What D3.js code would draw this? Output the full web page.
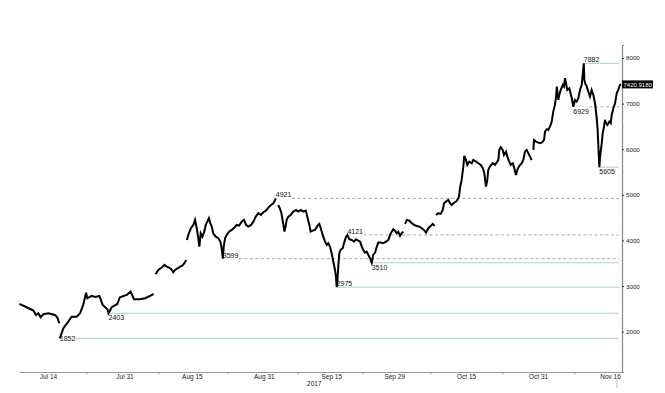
<!DOCTYPE html>
<meta charset="utf-8">
<script src="https://d3js.org/d3.v7.min.js"></script>
<style>
  body { margin: 0; background: #fff; }
  text { font-family: "Liberation Sans", Arial, sans-serif; }
</style>
<div id="chart"></div>
<script>
// price series (null = break in the line)
var dates = [
  "2017-07-07 15","2017-07-09 06","2017-07-10 18","2017-07-11 08","2017-07-11 20","2017-07-12 09","2017-07-12 23",
  "2017-07-14 02","2017-07-15 13","2017-07-16 02","2017-07-16 12","2017-07-16 13",
  "2017-07-16 15","2017-07-17 10","2017-07-18 12","2017-07-19 06","2017-07-20 09","2017-07-21 03","2017-07-21 20",
  "2017-07-22 11","2017-07-22 18","2017-07-23 17","2017-07-24 13","2017-07-25 10","2017-07-26 04","2017-07-27 05",
  "2017-07-27 11","2017-07-28 04","2017-07-29 10","2017-07-30 00","2017-07-31 12","2017-08-01 09","2017-08-02 03",
  "2017-08-03 11","2017-08-04 14","2017-08-05 20","2017-08-06 12","2017-08-06 17",
  "2017-08-06 22","2017-08-07 13","2017-08-08 07","2017-08-08 21","2017-08-09 10","2017-08-09 22","2017-08-10 09",
  "2017-08-10 21","2017-08-11 06","2017-08-11 20","2017-08-12 09","2017-08-12 21","2017-08-13 08","2017-08-13 18","2017-08-13 19",
  "2017-08-13 21","2017-08-14 05","2017-08-14 19","2017-08-15 08","2017-08-15 17","2017-08-16 02","2017-08-16 10",
  "2017-08-16 16","2017-08-16 23","2017-08-17 08","2017-08-17 18","2017-08-18 02","2017-08-18 12","2017-08-18 19",
  "2017-08-19 02","2017-08-19 10","2017-08-19 18","2017-08-20 07","2017-08-20 21","2017-08-21 08","2017-08-21 15",
  "2017-08-21 21","2017-08-22 02","2017-08-22 09","2017-08-22 18","2017-08-23 06","2017-08-23 21","2017-08-24 11",
  "2017-08-24 23","2017-08-25 12","2017-08-26 02","2017-08-26 14","2017-08-27 01","2017-08-27 13","2017-08-28 04",
  "2017-08-28 16","2017-08-29 05","2017-08-29 19","2017-08-30 09","2017-08-30 21","2017-08-31 10","2017-09-01 00",
  "2017-09-01 14","2017-09-02 03","2017-09-02 12","2017-09-02 16","2017-09-02 20",
  "2017-09-03 04","2017-09-03 13","2017-09-03 22","2017-09-04 07","2017-09-04 14","2017-09-04 20","2017-09-05 02",
  "2017-09-05 11","2017-09-05 23","2017-09-06 13","2017-09-07 04","2017-09-07 16","2017-09-08 05","2017-09-08 19",
  "2017-09-09 08","2017-09-09 16","2017-09-10 03","2017-09-10 10","2017-09-10 21","2017-09-11 09","2017-09-11 22",
  "2017-09-12 08","2017-09-12 16","2017-09-13 02","2017-09-13 15","2017-09-14 00","2017-09-14 08","2017-09-14 17",
  "2017-09-15 02","2017-09-15 11","2017-09-15 20","2017-09-16 01","2017-09-16 05","2017-09-16 08","2017-09-16 14",
  "2017-09-16 19","2017-09-17 02","2017-09-17 13","2017-09-17 20","2017-09-18 07","2017-09-18 14","2017-09-19 00",
  "2017-09-19 13","2017-09-20 01","2017-09-20 12","2017-09-21 00","2017-09-21 10","2017-09-21 19","2017-09-22 03",
  "2017-09-22 12","2017-09-22 21","2017-09-23 06","2017-09-23 15","2017-09-24 00","2017-09-24 08","2017-09-24 18",
  "2017-09-25 03","2017-09-25 11","2017-09-26 00","2017-09-26 14","2017-09-27 04","2017-09-27 17","2017-09-28 02",
  "2017-09-28 11","2017-09-28 19","2017-09-29 04","2017-09-29 13","2017-09-29 22","2017-09-30 07","2017-09-30 16",
  "2017-10-01 01","2017-10-01 05",
  "2017-10-01 10","2017-10-01 19","2017-10-02 09","2017-10-02 22","2017-10-03 10","2017-10-04 00","2017-10-04 14",
  "2017-10-05 03","2017-10-05 15","2017-10-06 02","2017-10-06 14","2017-10-07 03","2017-10-07 14","2017-10-08 00","2017-10-08 03",
  "2017-10-08 07","2017-10-08 19","2017-10-09 08","2017-10-09 19","2017-10-10 02","2017-10-10 12","2017-10-11 01",
  "2017-10-11 10","2017-10-11 19","2017-10-12 04","2017-10-12 18","2017-10-13 01","2017-10-13 10","2017-10-13 15",
  "2017-10-14 00","2017-10-14 09","2017-10-14 14","2017-10-14 23","2017-10-15 06","2017-10-15 17","2017-10-16 06",
  "2017-10-16 14","2017-10-17 05","2017-10-17 17","2017-10-18 06","2017-10-18 17","2017-10-19 01","2017-10-19 10",
  "2017-10-19 17","2017-10-19 22","2017-10-20 07","2017-10-20 22","2017-10-21 10","2017-10-21 22","2017-10-22 04",
  "2017-10-22 09","2017-10-22 17","2017-10-23 03","2017-10-23 10","2017-10-23 21","2017-10-24 04","2017-10-24 14",
  "2017-10-24 22","2017-10-25 09","2017-10-25 17","2017-10-26 02","2017-10-26 09","2017-10-26 20","2017-10-27 09",
  "2017-10-27 17","2017-10-28 02","2017-10-28 11","2017-10-28 20","2017-10-29 05","2017-10-29 14","2017-10-29 18",
  "2017-10-29 23","2017-10-30 02","2017-10-30 13","2017-10-31 01","2017-10-31 14","2017-11-01 01","2017-11-01 08",
  "2017-11-01 13","2017-11-01 22","2017-11-02 07","2017-11-02 19","2017-11-03 01","2017-11-03 09","2017-11-03 18",
  "2017-11-04 00","2017-11-04 04","2017-11-04 12","2017-11-04 17","2017-11-05 01","2017-11-05 12","2017-11-05 18",
  "2017-11-06 00","2017-11-06 05","2017-11-06 12","2017-11-06 23","2017-11-07 12","2017-11-07 20","2017-11-08 05",
  "2017-11-08 14","2017-11-08 23","2017-11-09 08","2017-11-09 17","2017-11-10 04","2017-11-10 07","2017-11-10 11",
  "2017-11-10 20","2017-11-11 04","2017-11-11 13","2017-11-11 22","2017-11-12 07","2017-11-12 16","2017-11-13 01",
  "2017-11-13 06","2017-11-13 10","2017-11-13 15","2017-11-13 19","2017-11-14 04","2017-11-14 09","2017-11-14 16",
  "2017-11-14 21","2017-11-15 03","2017-11-15 10","2017-11-15 20","2017-11-16 04","2017-11-16 09","2017-11-16 18",
  "2017-11-17 03","2017-11-17 12","2017-11-17 20","2017-11-18 05","2017-11-18 11"
];
var prices = [
  2607,2535,2461,2366,2403,2316,2382,
  2403,2366,2307,2184,null,
  1852,2075,2219,2329,2329,2403,2586,
  2855,2732,2783,2761,2783,2586,2491,
  2403,2535,2607,2754,2805,2877,2711,
  2711,2733,2790,2827,null,
  3259,3353,3404,3463,3425,3404,3375,
  3303,3353,3390,3425,3447,3500,3572,null,
  4011,4121,4268,4340,4450,4268,4048,
  3864,4158,4083,4193,4340,4428,4487,
  4377,4303,4158,4083,4048,3974,3829,
  3599,3864,4048,4121,4193,4230,4281,
  4340,4325,4412,4450,4340,4303,4340,
  4412,4522,4597,4559,4618,4647,4719,
  4778,4816,4888,4921,null,
  4778,4706,4597,4377,4193,4303,4450,
  4522,4559,4632,4669,4632,4669,4632,
  4654,4522,4340,4193,4215,4230,4318,
  4362,4268,4121,3974,3901,3939,3864,
  3719,3535,3353,3206,2975,3061,3463,
  3719,3792,3829,3939,4083,4121,4026,
  4011,3974,4026,3996,3974,3864,3792,
  3732,3754,3682,3610,3510,3682,3732,
  3864,3952,3952,3939,3974,4011,4121,
  4193,4246,4215,4158,4193,4099,4158,
  4193,null,
  4362,4450,4434,4377,4340,4318,4303,
  4268,4230,4171,4268,4318,4362,4318,null,
  4559,4597,4581,4669,4816,4851,4888,
  4816,4778,4816,4851,4888,4961,5145,
  5327,5618,5853,5765,5656,5728,5693,
  5765,5728,5693,5656,5583,5474,5180,
  5327,5546,5618,5693,5656,5728,5765,
  5985,6044,5985,5875,5947,5838,5728,
  5656,5693,5583,5436,5546,5634,5693,
  5765,5947,5985,5912,5838,5765,null,
  5985,6204,6167,6145,6132,6167,6204,
  6386,6439,6423,6533,6605,6825,6972,
  7154,7373,7081,7191,7300,7410,7373,
  7557,7447,7300,7338,7118,6929,7081,
  7044,7118,7300,7410,7882,7520,7447,
  7373,7263,7154,7300,7191,7009,6680,
  6423,6057,5605,5838,6132,6351,6496,
  6643,6570,6533,6605,6570,6752,6899,
  7009,7228,7300,7410,7420.918
];

// axis labels
var xLabels = ["Jul 14", "Jul 31", "Aug 15", "Aug 31", "Sep 15", "Sep 29", "Oct 15", "Oct 31", "Nov 16"];
var xLabelDates = ["2017-07-14 00", "2017-07-31 00", "2017-08-15 00", "2017-08-31 00", "2017-09-15 00",
                   "2017-09-29 00", "2017-10-15 00", "2017-10-31 00", "2017-11-16 00"];
var yearLabel = "2017";
var yTicks = [2000, 3000, 4000, 5000, 6000, 7000, 8000];
var yMinorTicks = [1500, 2500, 3500, 4500, 5500, 6500, 7500];

// marked highs / lows
var levelValues = [1852, 2403, 2975, 3510, 3599, 4121, 4921, 5605, 6929, 7882];
var levelDates = ["2017-07-16 15", "2017-07-27 11", "2017-09-16 05", "2017-09-24 00", "2017-08-21 21",
                  "2017-09-18 14", "2017-09-02 16", "2017-11-13 15", "2017-11-07 20", "2017-11-10 04"];
var levelPos = ["inline", "below", "above", "below", "above", "above", "above", "below", "below", "above"];
var levelDashed = [false, false, false, false, true, true, true, false, true, false];

var lastPrice = 7420.9180;

var parse = d3.timeParse("%Y-%m-%d %H");
var data = dates.map(function (d, i) { return {date: parse(d), v: prices[i]}; });

var width = 665, height = 393;
var svg = d3.select("#chart").append("svg")
    .attr("width", width)
    .attr("height", height);

var x = d3.scaleTime()
    .domain([parse("2017-07-07 12"), parse("2017-11-18 16")])
    .range([18.8, 622]);

var y = d3.scaleLinear()
    .domain([1115, 8285])
    .range([372, 45]);

// level lines
var levels = svg.append("g");
levelValues.forEach(function (v, i) {
  var lx = x(parse(levelDates[i]));
  var ly = y(v);
  var pos = levelPos[i];
  var t = levels.append("text")
      .attr("x", lx)
      .attr("y", pos === "below" ? ly + 7 : pos === "above" ? ly - 1 : ly + 2.5)
      .attr("font-size", 7)
      .attr("fill", "#111")
      .text(v);
  var w = t.node().getComputedTextLength();
  var x0 = (levelDashed[i] || pos === "inline") ? lx + w + 0.5 : lx;
  levels.insert("line", "text")
      .attr("x1", x0).attr("x2", 619)
      .attr("y1", ly).attr("y2", ly)
      .attr("stroke", levelDashed[i] ? "#a8a8a8" : "#a9d2cd")
      .attr("stroke-width", 1)
      .attr("stroke-dasharray", levelDashed[i] ? "3,2.5" : null);
});

// price line
var line = d3.line()
    .defined(function (d) { return d.v != null; })
    .x(function (d) { return x(d.date); })
    .y(function (d) { return y(d.v); });

svg.append("path")
    .datum(data)
    .attr("fill", "none")
    .attr("stroke", "#000")
    .attr("stroke-width", 2)
    .attr("stroke-linejoin", "miter")
    .attr("d", line);

// x axis
var labelDates = xLabelDates.map(parse);
var xAxis = svg.append("g")
    .attr("transform", "translate(0,372)")
    .call(d3.axisBottom(x)
      .tickValues(labelDates)
      .tickSize(0)
      .tickPadding(2.5)
      .tickFormat(function (d, i) { return xLabels[i]; }));
xAxis.select(".domain").attr("stroke", "#999");
xAxis.selectAll("text").attr("font-size", 6.5).attr("fill", "#222")
    .style("font-family", "'Liberation Sans', Arial, sans-serif");

var mids = [];
for (var i = 0; i < labelDates.length - 1; i++) {
  mids.push(new Date((+labelDates[i] + +labelDates[i + 1]) / 2));
}
var xMinor = svg.append("g")
    .attr("transform", "translate(0,372)")
    .call(d3.axisBottom(x).tickValues(mids).tickSize(2).tickFormat(""));
xMinor.select(".domain").remove();
xMinor.selectAll("line").attr("stroke", "#888");

svg.append("text")
    .attr("x", x(labelDates[4]) - 17)
    .attr("y", 385.5)
    .attr("text-anchor", "middle")
    .attr("font-size", 6.5)
    .attr("fill", "#222")
    .text(yearLabel);

svg.append("line")
    .attr("x1", 617).attr("x2", 617)
    .attr("y1", 378).attr("y2", 388)
    .attr("stroke", "#bbb");

// y axis
var yAxis = svg.append("g")
    .attr("transform", "translate(622,0)")
    .call(d3.axisRight(y)
      .tickValues(yTicks)
      .tickSize(2)
      .tickPadding(2)
      .tickFormat(d3.format("d")));
yAxis.select(".domain").attr("stroke", "#888").attr("stroke-width", 1.2);
yAxis.selectAll(".tick line").attr("stroke", "#333");
yAxis.selectAll("text").attr("font-size", 6.2).attr("fill", "#222")
    .style("font-family", "'Liberation Sans', Arial, sans-serif");

var yMinor = svg.append("g")
    .attr("transform", "translate(622,0)")
    .call(d3.axisRight(y).tickValues(yMinorTicks).tickSize(1.5).tickFormat(""));
yMinor.select(".domain").remove();
yMinor.selectAll("line").attr("stroke", "#999");

// last price tag
var tag = svg.append("g").attr("transform", "translate(622," + y(lastPrice) + ")");
tag.append("rect")
    .attr("x", 0).attr("y", -4)
    .attr("width", 31).attr("height", 8)
    .attr("fill", "#000");
tag.append("text")
    .attr("x", 1.5).attr("y", 2.2)
    .attr("font-size", 6)
    .attr("fill", "#fff")
    .text(d3.format(".4f")(lastPrice));
</script>
